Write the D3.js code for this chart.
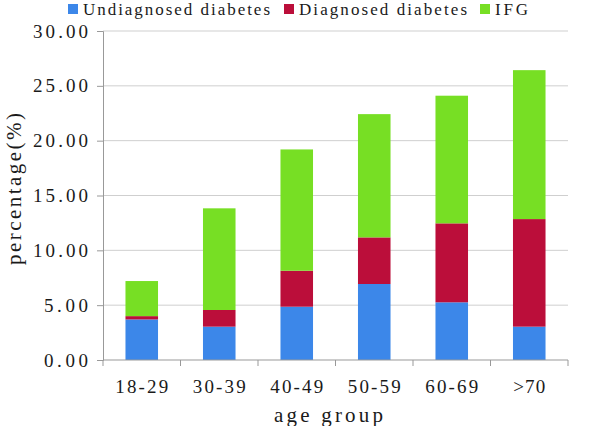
<!DOCTYPE html>
<html>
<head>
<meta charset="utf-8">
<script src="https://d3js.org/d3.v7.min.js"></script>
<style>
body { margin: 0; background: #fff; }
text { font-family: "Liberation Serif", "DejaVu Serif", serif; fill: #1a1a1a; }
</style>
</head>
<body>
<div id="chart"></div>
<script>
// data
var ageGroups = ["18-29", "30-39", "40-49", "50-59", "60-69", ">70"];
var undiagnosed = [3.70, 3.04, 4.86, 6.93, 5.26, 3.04];
var diagnosed   = [0.30, 1.52, 3.28, 4.25, 7.20, 9.81];
var ifg         = [3.20, 9.27, 11.06, 11.24, 11.64, 13.58];
var seriesNames = ["Undiagnosed diabetes", "Diagnosed diabetes", "IFG"];
var seriesColors = ["#3c87e9", "#bb0e3a", "#77df24"];
var yTicks = [0, 5, 10, 15, 20, 25, 30];

var W = 600, H = 426;
var margin = {top: 31, right: 32, bottom: 66, left: 103};
var width = W - margin.left - margin.right,
    height = H - margin.top - margin.bottom;

// the original font is a wide CJK serif; stretch glyph spacing to its cell width
var charW = function(px) { return function(d) { return d.length * px; }; };

var svg = d3.select("#chart").append("svg")
  .attr("width", W).attr("height", H);
var g = svg.append("g")
  .attr("transform", "translate(" + margin.left + "," + margin.top + ")");

var rows = ageGroups.map(function(a, i) {
  return {age: a, s0: undiagnosed[i], s1: diagnosed[i], s2: ifg[i]};
});
var stack = d3.stack().keys(["s0", "s1", "s2"])(rows);

var x = d3.scaleBand().domain(ageGroups).range([0, width]).paddingInner(0.58).paddingOuter(0.29);
var y = d3.scaleLinear().domain([0, 30]).range([height, 0]);

// gridlines
g.selectAll(".grid").data(yTicks.slice(1)).enter().append("line")
  .attr("x1", 0).attr("x2", width)
  .attr("y1", function(d) { return y(d); }).attr("y2", function(d) { return y(d); })
  .attr("stroke", "#cfcfcf").attr("stroke-width", 1);

// bars
g.selectAll(".layer").data(stack).enter().append("g")
  .attr("fill", function(d, i) { return seriesColors[i]; })
  .selectAll("rect").data(function(d) { return d; }).enter().append("rect")
    .attr("x", function(d) { return x(d.data.age); })
    .attr("width", x.bandwidth())
    .attr("y", function(d) { return y(d[1]); })
    .attr("height", function(d) { return y(d[0]) - y(d[1]); });

// y axis
var fmt = d3.format(".2f");
var yAxis = g.append("g")
  .call(d3.axisLeft(y).tickValues(yTicks).tickSize(6).tickPadding(9).tickFormat(fmt));
yAxis.select(".domain").attr("stroke", "#999");
yAxis.selectAll(".tick line").attr("stroke", "#999");
yAxis.selectAll("text").style("font-size", "19px").attr("fill", "#1a1a1a")
  .attr("textLength", function(d) { return fmt(d).length * 11; })
  .attr("lengthAdjust", "spacing");

// x axis with ticks at band edges
var xAxis = g.append("g").attr("transform", "translate(0," + height + ")");
xAxis.append("line").attr("x1", 0).attr("x2", width).attr("stroke", "#999");
var step = x.step();
xAxis.selectAll(".xt").data(d3.range(ageGroups.length + 1)).enter().append("line")
  .attr("x1", function(i) { return i * step; }).attr("x2", function(i) { return i * step; })
  .attr("y1", 0).attr("y2", 6).attr("stroke", "#999");
xAxis.selectAll(".xl").data(ageGroups).enter().append("text")
  .attr("x", function(d) { return x(d) + x.bandwidth() / 2; })
  .attr("y", 33)
  .attr("text-anchor", "middle")
  .style("font-size", "19px")
  .attr("textLength", charW(10.6)).attr("lengthAdjust", "spacing")
  .text(function(d) { return d; });

// axis titles
svg.append("text")
  .attr("x", margin.left + width / 2 - 7).attr("y", 422)
  .attr("text-anchor", "middle").style("font-size", "21px")
  .attr("textLength", 109).attr("lengthAdjust", "spacing")
  .text("age group");
svg.append("text")
  .attr("transform", "translate(21,189) rotate(-90)")
  .attr("text-anchor", "middle").style("font-size", "21px")
  .attr("textLength", 152).attr("lengthAdjust", "spacing")
  .text("percentage(%)");

// legend
var legX = [68, 284, 480];
var legLen = [187, 168, 33];
var leg = svg.selectAll(".leg").data(seriesNames).enter().append("g")
  .attr("transform", function(d, i) { return "translate(" + legX[i] + ",0)"; });
leg.append("rect").attr("x", 0).attr("y", 4).attr("width", 10).attr("height", 10)
  .attr("fill", function(d, i) { return seriesColors[i]; });
leg.append("text").attr("x", 15).attr("y", 15).style("font-size", "17px")
  .attr("textLength", function(d, i) { return legLen[i]; }).attr("lengthAdjust", "spacing")
  .text(function(d) { return d; });
</script>
</body>
</html>
